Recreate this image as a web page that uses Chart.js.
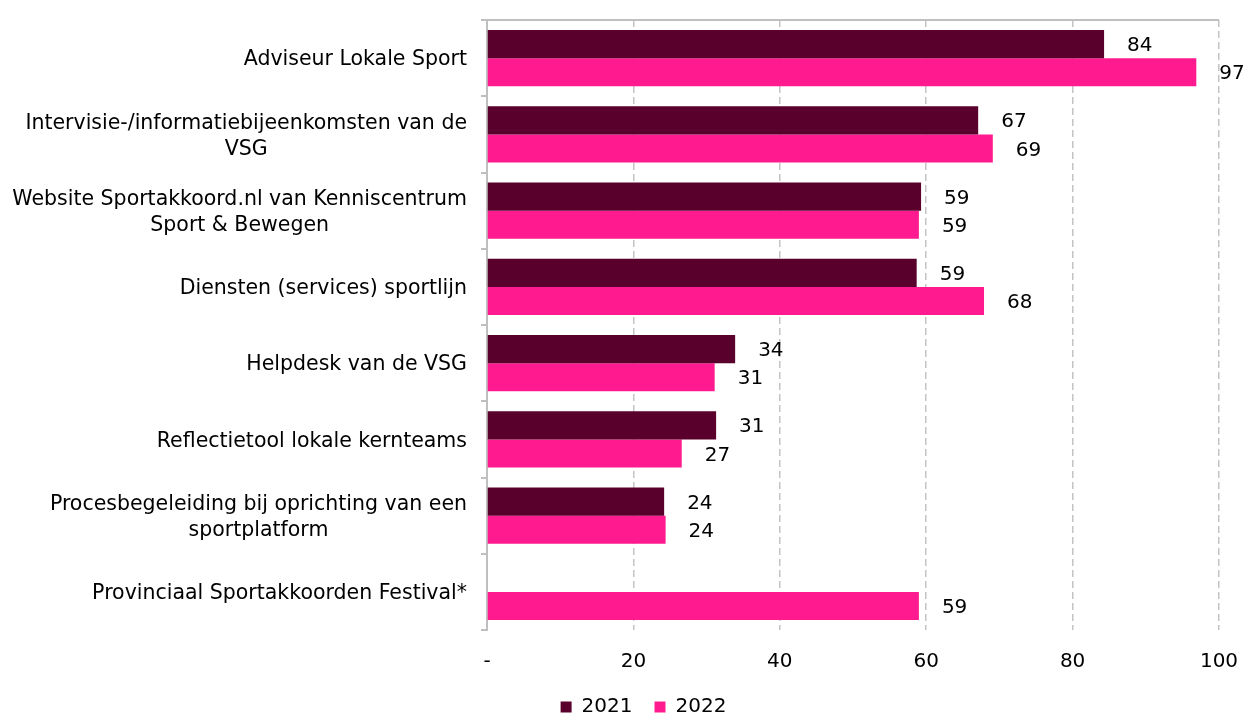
<!DOCTYPE html>
<html>
<head>
<meta charset="utf-8">
<script src="https://cdn.jsdelivr.net/npm/chart.js@4/dist/chart.umd.min.js"></script>
<style>
    html, body { margin: 0; padding: 0; background: #fff; }
    .chart-wrap { width: 1245px; height: 715px; position: relative; }
</style>
</head>
<body>
<div class="chart-wrap"><canvas id="sportChart"></canvas></div>
<script>
// Categorieën en waarden
const categories = [
    'Adviseur Lokale Sport',
    ['Intervisie-/informatiebijeenkomsten van de', 'VSG'],
    ['Website Sportakkoord.nl van Kenniscentrum', 'Sport & Bewegen'],
    'Diensten (services) sportlijn',
    'Helpdesk van de VSG',
    'Reflectietool lokale kernteams',
    ['Procesbegeleiding bij oprichting van een', 'sportplatform'],
    'Provinciaal Sportakkoorden Festival*'
];
const values2021 = [84.3, 67.1, 59.3, 58.7, 33.9, 31.3, 24.2, null];
const values2022 = [96.9, 69.1, 59.0, 67.9, 31.1, 26.6, 24.4, 59.0];
const xTicks = [0, 20, 40, 60, 80, 100];

const fontFamily = '"DejaVu Sans", Verdana, sans-serif';

// Waarden rechts van de balken
const valueLabels = {
    id: 'valueLabels',
    afterDatasetsDraw(chart) {
        const ctx = chart.ctx;
        ctx.save();
        ctx.font = '20px ' + fontFamily;
        ctx.fillStyle = '#000';
        ctx.textAlign = 'left';
        ctx.textBaseline = 'middle';
        chart.data.datasets.forEach((ds, i) => {
            chart.getDatasetMeta(i).data.forEach((bar, j) => {
                const v = ds.data[j];
                if (v === null || v === undefined) return;
                ctx.fillText(Math.round(v), bar.x + 23, bar.y + 2);
            });
        });
        ctx.restore();
    }
};

// Categorielabels, meerdere regels onderling gecentreerd
const categoryLabels = {
    id: 'categoryLabels',
    afterDraw(chart) {
        const ctx = chart.ctx;
        const yScale = chart.scales.y;
        const right = chart.chartArea.left - 20;
        const lineH = 26;
        ctx.save();
        ctx.font = '20.5px ' + fontFamily;
        ctx.fillStyle = '#000';
        ctx.textAlign = 'center';
        ctx.textBaseline = 'middle';
        categories.forEach((label, i) => {
            const lines = Array.isArray(label) ? label : [label];
            const w = Math.max(...lines.map(l => ctx.measureText(l).width));
            const cx = right - w / 2;
            const cy = yScale.getPixelForValue(i) + 2;
            const y0 = cy - (lines.length - 1) * lineH / 2;
            lines.forEach((l, k) => ctx.fillText(l, cx, y0 + k * lineH));
        });
        ctx.restore();
    }
};

// Lijn boven het plotgebied + legenda iets naar rechts
const topLine = {
    id: 'topLine',
    afterLayout(chart) {
        chart.legend.left += 34;
        chart.legend.right += 34;
    },
    beforeDatasetsDraw(chart) {
        const { ctx, chartArea } = chart;
        ctx.save();
        ctx.strokeStyle = '#bfbfbf';
        ctx.lineWidth = 2;
        ctx.beginPath();
        ctx.moveTo(chartArea.left - 5, chartArea.top);
        ctx.lineTo(chartArea.right, chartArea.top);
        ctx.stroke();
        ctx.restore();
    }
};

const ctx = document.getElementById('sportChart').getContext('2d');
new Chart(ctx, {
    type: 'bar',
    data: {
        labels: categories,
        datasets: [
            {
                label: '2021',
                data: values2021,
                backgroundColor: '#5a002c',
                barPercentage: 1,
                categoryPercentage: 0.74
            },
            {
                label: '2022',
                data: values2022,
                backgroundColor: '#ff1a8f',
                barPercentage: 1,
                categoryPercentage: 0.74
            }
        ]
    },
    options: {
        indexAxis: 'y',
        responsive: true,
        maintainAspectRatio: false,
        animation: false,
        layout: { padding: { top: 20, right: 26, left: 0, bottom: -12 } },
        scales: {
            x: {
                min: 0,
                max: 100,
                afterBuildTicks: scale => { scale.ticks = xTicks.map(v => ({ value: v })); },
                afterFit: scale => {
                    scale.height = 45;
                    scale.paddingRight = 0;
                    scale.paddingLeft = 0;
                },
                grid: {
                    color: '#c4c4c4',
                    lineWidth: 1.5,
                    drawTicks: false
                },
                border: { display: false, dash: [7, 4] },
                ticks: {
                    padding: 20,
                    color: '#000',
                    font: { family: fontFamily, size: 20 },
                    callback: v => v === 0 ? '-' : v
                }
            },
            y: {
                afterFit: scale => { scale.width = 487; },
                grid: {
                    drawOnChartArea: false,
                    color: '#bfbfbf',
                    lineWidth: 2,
                    tickLength: 6
                },
                border: { display: true, color: '#bfbfbf', width: 2 },
                ticks: {
                    color: 'rgba(0,0,0,0)',
                    font: { family: fontFamily, size: 12 },
                    autoSkip: false
                }
            }
        },
        plugins: {
            legend: {
                position: 'bottom',
                labels: {
                    color: '#000',
                    font: { family: fontFamily, size: 20 },
                    boxWidth: 11,
                    boxHeight: 11,
                    padding: 22
                }
            },
            tooltip: { enabled: false }
        }
    },
    plugins: [valueLabels, categoryLabels, topLine]
});
</script>
</body>
</html>
